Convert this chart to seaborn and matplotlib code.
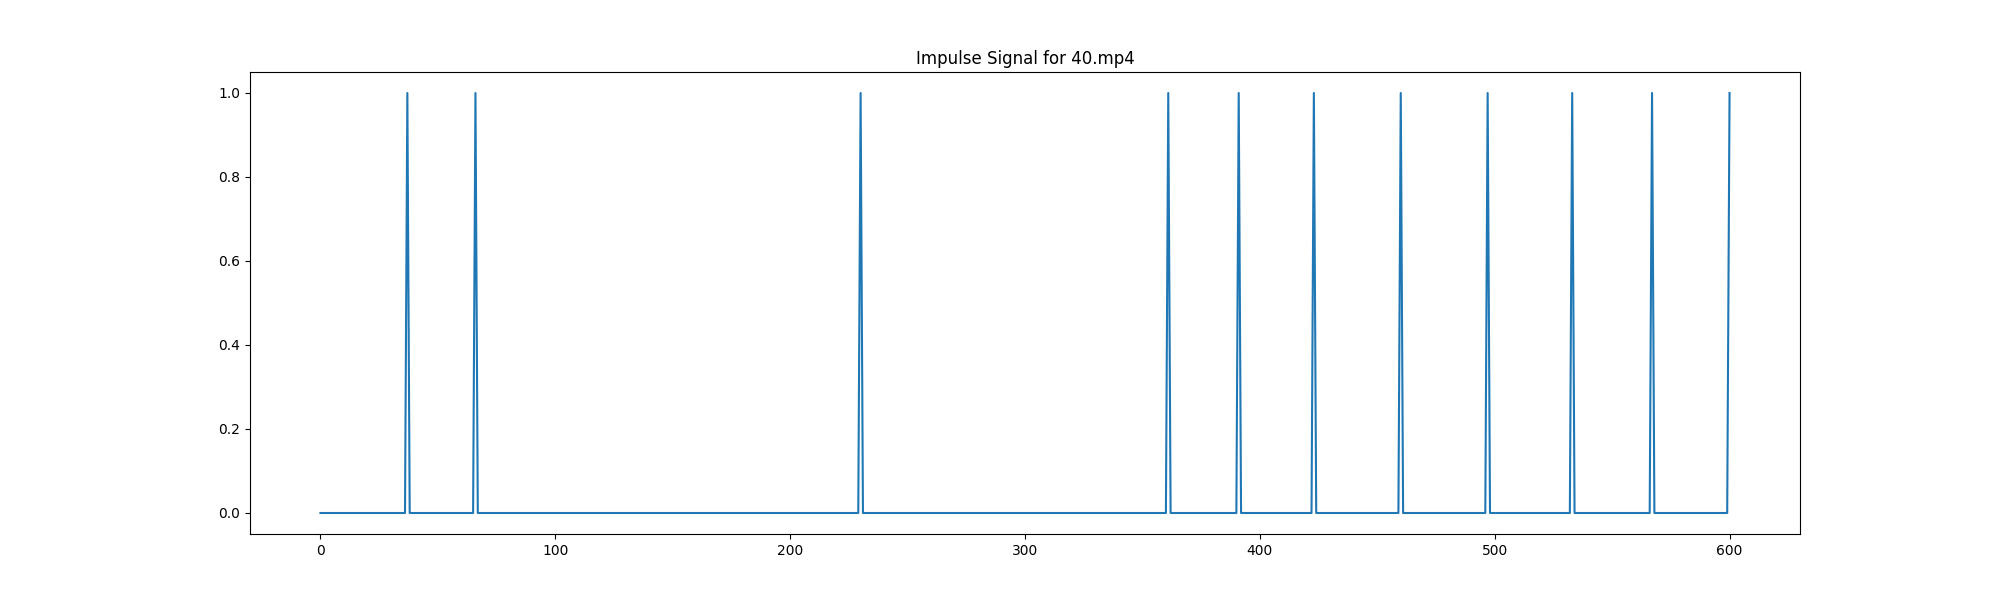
import numpy as np
import pandas as pd
import seaborn as sns
import matplotlib.pyplot as plt

# impulse signal data
video_name = "40.mp4"
n_frames = 601
impulse_frames = [37, 66, 230, 361, 391, 423, 460, 497, 533, 567, 600]

signal = np.zeros(n_frames)
signal[impulse_frames] = 1.0
df = pd.DataFrame({"frame": np.arange(n_frames), "impulse": signal})

plt.figure(figsize=(20, 6), dpi=100)
ax = sns.lineplot(data=df, x="frame", y="impulse", color="#1f77b4", linewidth=1.5)

ax.set_title(f"Impulse Signal for {video_name}")
ax.set_xlabel("")
ax.set_ylabel("")
plt.savefig("out.png", dpi=100)
